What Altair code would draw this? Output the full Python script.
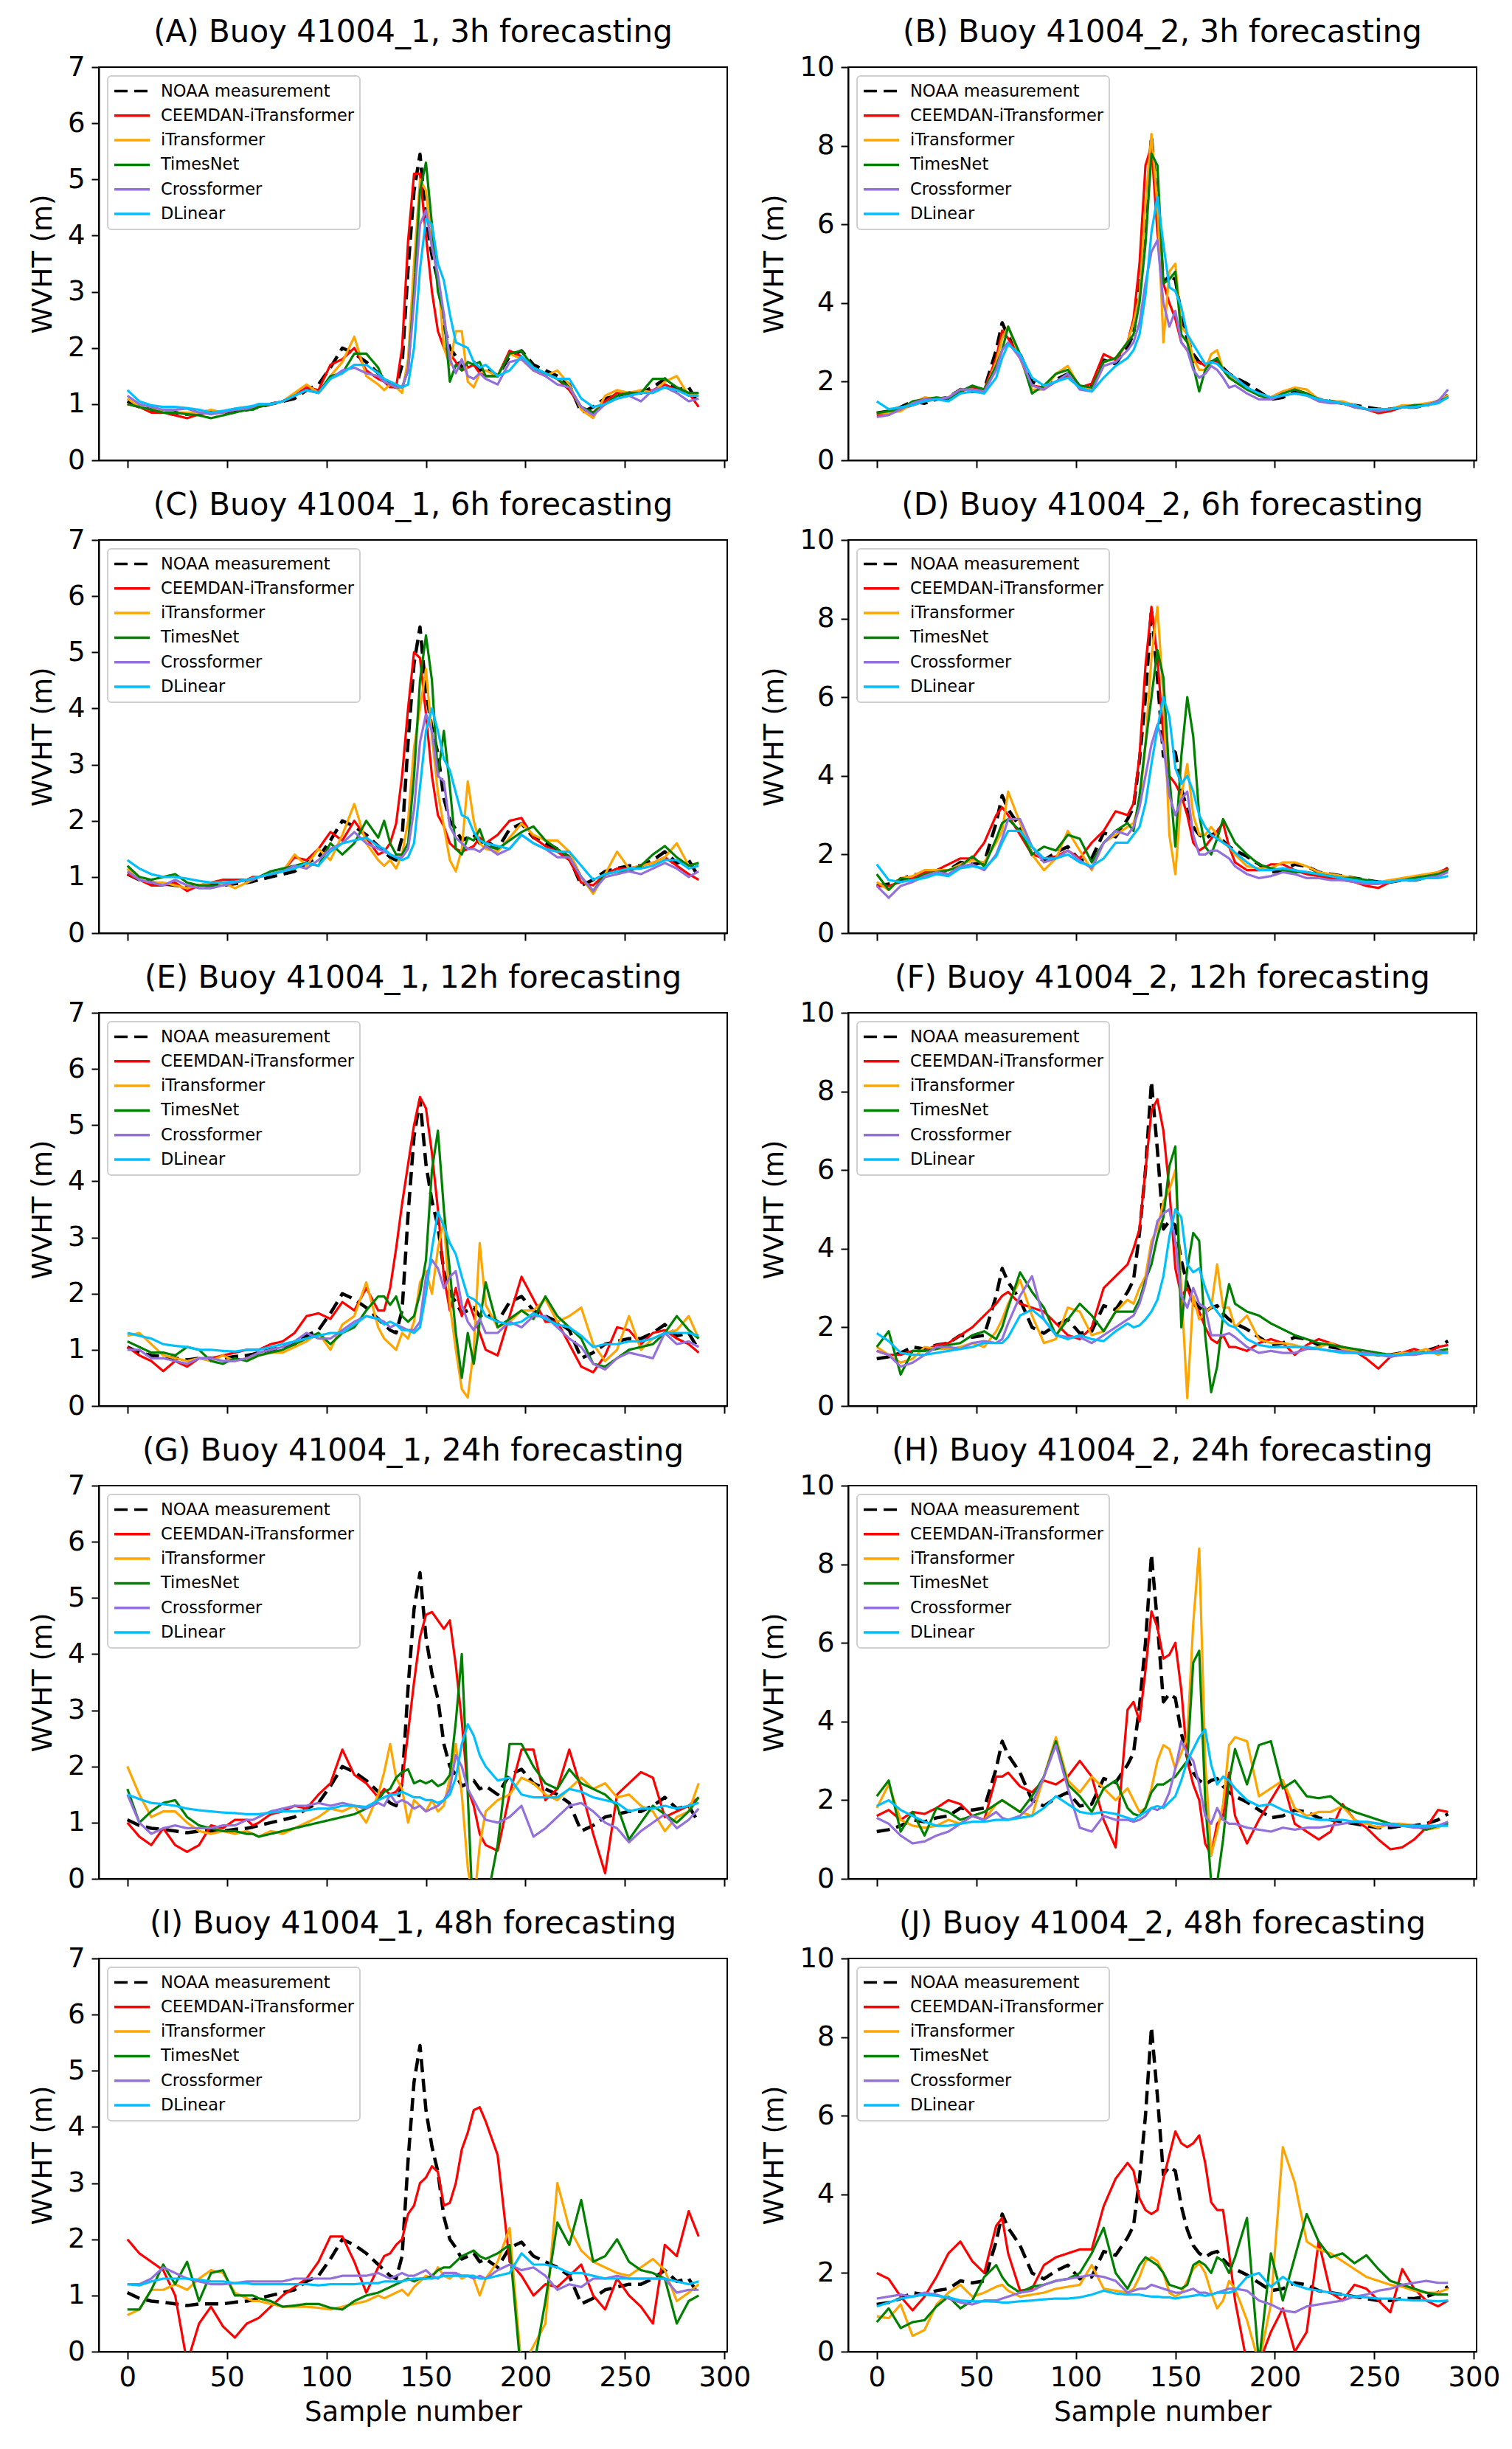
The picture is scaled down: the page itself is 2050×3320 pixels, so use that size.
import altair as alt
import pandas as pd

# ---------------- data ----------------
SAMPLE = [0, 6, 12, 18, 24, 30, 36, 42, 48, 54,
          60, 63, 66, 72, 78, 84, 90, 96, 102, 108,
          114, 120, 126, 129, 132, 135, 138, 141, 144, 147,
          150, 153, 156, 159, 162, 165, 168, 171, 174, 177,
          180, 186, 192, 198, 204, 210, 216, 222, 228, 234,
          240, 246, 252, 258, 264, 270, 276, 282, 287]

X_TICKS = [0, 50, 100, 150, 200, 250, 300]
Y_TICKS_1 = [0, 1, 2, 3, 4, 5, 6, 7]
Y_TICKS_2 = [0, 2, 4, 6, 8, 10]

SERIES = ["NOAA measurement", "CEEMDAN-iTransformer", "iTransformer",
          "TimesNet", "Crossformer", "DLinear"]
COLORS = ["#000000", "#ff0000", "#ffa500", "#008000", "#9370db", "#00bfff"]
DASHES = [[18, 9], [1, 0], [1, 0], [1, 0], [1, 0], [1, 0]]
WIDTHS = [4.5, 3.2, 3.2, 3.2, 3.2, 3.2]

NOAA_1 = [1.05, 0.95, 0.9, 0.88, 0.85, 0.82, 0.85, 0.85, 0.85, 0.88,
          0.9, 0.92, 0.95, 1.0, 1.05, 1.1, 1.25, 1.35, 1.65, 2.0,
          1.9, 1.75, 1.55, 1.45, 1.35, 1.3, 1.7, 3.4, 4.8, 5.45,
          4.3, 3.65, 3.2, 2.4, 2.0, 1.85, 1.65, 1.7, 1.75, 1.6,
          1.65, 1.5, 1.85, 1.95, 1.7, 1.6, 1.5, 1.35, 0.85, 0.95,
          1.1, 1.15, 1.2, 1.2, 1.3, 1.45, 1.25, 1.3, 1.0]
NOAA_2 = [1.2, 1.25, 1.35, 1.5, 1.45, 1.55, 1.6, 1.8, 1.75, 1.8,
          2.8, 3.5, 3.15, 2.7, 2.0, 1.85, 2.05, 2.2, 1.85, 1.9,
          2.55, 2.45, 2.9, 3.2, 4.4, 6.0, 8.25, 6.5, 4.5, 4.7,
          4.6, 3.7, 3.1, 2.7, 2.5, 2.4, 2.5, 2.55, 2.35, 2.2,
          2.1, 1.95, 1.75, 1.55, 1.6, 1.75, 1.7, 1.55, 1.5, 1.45,
          1.4, 1.35, 1.3, 1.3, 1.35, 1.35, 1.4, 1.5, 1.65]

# (A) 41004_1, 3h
A_CEEMDAN = [1.0, 0.95, 0.85, 0.85, 0.8, 0.75, 0.82, 0.85, 0.85, 0.9,
             0.92, 0.95, 0.95, 1.0, 1.05, 1.15, 1.3, 1.25, 1.7, 1.8,
             2.0, 1.6, 1.45, 1.4, 1.3, 1.3, 2.0, 3.9, 5.1, 5.1,
             4.0, 3.0, 2.3, 2.0, 1.9, 1.75, 1.6, 1.65, 1.7, 1.55,
             1.5, 1.5, 1.95, 1.85, 1.6, 1.55, 1.45, 1.25, 0.95, 0.85,
             1.05, 1.2, 1.15, 1.2, 1.25, 1.35, 1.25, 1.2, 0.95]
A_ITRANS = [1.1, 0.95, 0.9, 0.9, 0.85, 0.85, 0.85, 0.9, 0.85, 0.92,
            0.95, 0.95, 1.0, 1.0, 1.05, 1.2, 1.35, 1.2, 1.5, 1.75,
            2.2, 1.5, 1.35, 1.25, 1.35, 1.3, 1.2, 1.8, 3.5, 5.0,
            4.8, 3.8, 3.3, 2.0, 1.7, 2.3, 2.3, 1.4, 1.3, 1.55,
            1.6, 1.5, 1.9, 1.8, 1.6, 1.5, 1.6, 1.35, 0.9, 0.75,
            1.15, 1.25, 1.2, 1.25, 1.2, 1.4, 1.5, 1.15, 1.2]
A_TIMESNET = [1.0, 0.95, 0.9, 0.85, 0.85, 0.82, 0.8, 0.75, 0.8, 0.85,
              0.9, 0.9, 0.95, 1.0, 1.05, 1.15, 1.25, 1.2, 1.5, 1.55,
              1.9, 1.9, 1.65, 1.4, 1.35, 1.3, 1.3, 1.6, 3.0, 4.8,
              5.3, 4.2, 3.0, 2.6, 1.4, 1.7, 1.6, 1.75, 1.7, 1.75,
              1.5, 1.5, 1.9, 1.95, 1.65, 1.55, 1.45, 1.3, 0.95, 0.85,
              1.0, 1.15, 1.2, 1.2, 1.45, 1.45, 1.3, 1.2, 1.2]
A_CROSS = [1.15, 1.0, 0.95, 0.9, 0.9, 0.92, 0.85, 0.82, 0.85, 0.9,
           0.92, 0.95, 1.0, 1.0, 1.05, 1.15, 1.25, 1.2, 1.45, 1.6,
           1.65, 1.55, 1.5, 1.4, 1.35, 1.3, 1.3, 1.6, 2.8, 4.2,
           4.45, 3.8, 3.3, 2.6, 1.8, 1.55, 1.8, 1.5, 1.45, 1.55,
           1.45, 1.35, 1.75, 1.8, 1.6, 1.5, 1.35, 1.3, 0.95, 0.8,
           1.0, 1.1, 1.15, 1.05, 1.25, 1.3, 1.2, 1.05, 1.1]
A_DLINEAR = [1.25, 1.05, 0.98, 0.95, 0.95, 0.93, 0.9, 0.85, 0.88, 0.92,
             0.95, 0.97, 1.0, 1.0, 1.05, 1.15, 1.25, 1.2, 1.45, 1.55,
             1.7, 1.7, 1.55, 1.45, 1.4, 1.35, 1.3, 1.35, 2.0, 3.4,
             4.3, 4.2, 3.5, 3.2, 2.6, 2.1, 2.05, 2.0, 1.75, 1.65,
             1.7, 1.5, 1.6, 1.85, 1.65, 1.55, 1.45, 1.45, 1.1, 0.95,
             1.0, 1.1, 1.15, 1.2, 1.2, 1.3, 1.25, 1.15, 1.15]

# (B) 41004_2, 3h
B_CEEMDAN = [1.15, 1.2, 1.3, 1.4, 1.5, 1.55, 1.55, 1.75, 1.85, 1.8,
             2.6, 3.3, 3.1, 2.6, 1.9, 1.85, 2.0, 2.15, 1.85, 1.95,
             2.7, 2.55, 3.0, 3.6, 5.0, 7.5, 8.0, 5.8, 4.5, 4.0,
             3.6, 3.0, 2.8, 2.5, 2.5, 2.4, 2.5, 2.5, 2.3, 2.2,
             2.1, 1.85, 1.65, 1.6, 1.75, 1.8, 1.7, 1.55, 1.5, 1.45,
             1.4, 1.3, 1.2, 1.25, 1.35, 1.4, 1.4, 1.5, 1.65]
B_ITRANS = [1.2, 1.2, 1.25, 1.45, 1.6, 1.55, 1.6, 1.8, 1.8, 1.75,
            2.5, 3.1, 3.4, 2.6, 1.8, 1.8, 2.2, 2.4, 1.85, 1.8,
            2.5, 2.6, 3.0, 3.5, 4.2, 6.5, 8.3, 6.5, 3.0, 4.8,
            5.0, 3.4, 3.2, 2.6, 2.3, 2.3, 2.7, 2.8, 2.3, 2.2,
            2.0, 1.8, 1.7, 1.6, 1.75, 1.85, 1.8, 1.55, 1.5, 1.5,
            1.4, 1.3, 1.25, 1.3, 1.4, 1.4, 1.45, 1.5, 1.65]
B_TIMESNET = [1.2, 1.25, 1.3, 1.5, 1.55, 1.6, 1.55, 1.75, 1.9, 1.8,
              2.4, 2.8, 3.4, 2.7, 1.7, 1.9, 2.2, 2.3, 1.9, 1.85,
              2.5, 2.6, 3.0, 3.2, 4.0, 5.5, 7.8, 7.5, 4.5, 4.6,
              4.8, 3.2, 3.0, 2.4, 1.75, 2.3, 2.5, 2.6, 2.3, 2.1,
              2.0, 1.8, 1.65, 1.55, 1.7, 1.8, 1.7, 1.55, 1.5, 1.45,
              1.35, 1.3, 1.25, 1.3, 1.35, 1.4, 1.4, 1.5, 1.6]
B_CROSS = [1.1, 1.15, 1.3, 1.45, 1.55, 1.55, 1.6, 1.8, 1.8, 1.75,
           2.3, 2.8, 3.0, 2.6, 1.9, 1.8, 2.0, 2.2, 1.8, 1.75,
           2.4, 2.5, 2.8, 3.0, 3.5, 4.5, 5.3, 5.6, 4.0, 3.4,
           3.8, 3.0, 2.8, 2.3, 2.1, 2.2, 2.4, 2.3, 2.1, 1.85,
           1.9, 1.7, 1.55, 1.55, 1.65, 1.7, 1.65, 1.5, 1.45, 1.45,
           1.35, 1.3, 1.25, 1.3, 1.35, 1.35, 1.4, 1.5, 1.8]
B_DLINEAR = [1.5, 1.3, 1.35, 1.4, 1.5, 1.55, 1.5, 1.7, 1.75, 1.7,
             2.1, 2.6, 2.95, 2.7, 2.1, 1.9, 2.0, 2.1, 1.85, 1.75,
             2.1, 2.4, 2.6, 2.8, 3.2, 4.2, 5.8, 6.7, 5.5, 4.4,
             4.3, 3.9, 3.2, 2.95, 2.7, 2.45, 2.5, 2.45, 2.3, 2.2,
             2.1, 1.85, 1.7, 1.6, 1.65, 1.7, 1.65, 1.55, 1.5, 1.45,
             1.4, 1.3, 1.3, 1.3, 1.35, 1.35, 1.4, 1.45, 1.6]

# (C) 41004_1, 6h
C_CEEMDAN = [1.05, 0.95, 0.85, 0.85, 0.9, 0.75, 0.85, 0.9, 0.95, 0.95,
             0.95, 1.0, 1.0, 1.05, 1.1, 1.35, 1.3, 1.5, 1.8, 1.65,
             2.0, 1.7, 1.4, 1.45, 1.6, 1.95, 2.8, 4.0, 5.0, 4.9,
             3.9, 2.8, 2.1, 1.9, 1.6, 1.5, 1.45, 1.5, 1.55, 1.7,
             1.6, 1.75, 2.0, 2.05, 1.7, 1.55, 1.45, 1.3, 0.9, 0.85,
             1.05, 1.15, 1.15, 1.2, 1.25, 1.35, 1.2, 1.05, 0.95]
C_ITRANS = [1.15, 0.95, 0.9, 0.9, 0.85, 0.8, 0.85, 0.9, 0.9, 0.8,
            0.9, 0.95, 1.0, 1.05, 1.1, 1.4, 1.2, 1.5, 1.3, 1.75,
            2.3, 1.6, 1.3, 1.2, 1.3, 1.15, 1.4, 2.0, 3.3, 4.0,
            4.7, 3.5, 2.5, 1.9, 1.3, 1.1, 1.5, 2.7, 2.0, 1.6,
            1.5, 1.45, 1.7, 1.95, 1.75, 1.65, 1.65, 1.45, 1.0, 0.7,
            1.05, 1.45, 1.15, 1.2, 1.25, 1.35, 1.6, 1.2, 1.25]
C_TIMESNET = [1.2, 1.0, 0.95, 1.0, 1.05, 0.9, 0.85, 0.85, 0.85, 0.9,
              0.95, 0.95, 1.0, 1.1, 1.15, 1.2, 1.25, 1.2, 1.6, 1.4,
              1.6, 2.0, 1.7, 2.0, 1.6, 1.4, 1.4, 1.6, 2.8, 4.5,
              5.3, 4.5, 2.8, 3.6, 2.6, 1.5, 1.4, 1.7, 1.65, 1.85,
              1.55, 1.5, 1.65, 1.8, 1.9, 1.65, 1.5, 1.35, 1.0, 0.75,
              1.05, 1.1, 1.1, 1.2, 1.4, 1.55, 1.35, 1.2, 1.25]
C_CROSS = [1.1, 0.95, 0.9, 0.85, 0.95, 0.85, 0.8, 0.8, 0.85, 0.9,
           0.95, 0.95, 1.0, 1.05, 1.1, 1.2, 1.15, 1.3, 1.5, 1.6,
           1.8, 1.6, 1.5, 1.45, 1.4, 1.35, 1.35, 1.5, 2.2, 3.4,
           3.9, 3.6, 2.8, 2.7, 1.9, 1.7, 1.6, 1.5, 1.5, 1.45,
           1.55, 1.4, 1.5, 1.75, 1.6, 1.5, 1.35, 1.35, 1.0, 0.75,
           1.0, 1.05, 1.1, 1.05, 1.15, 1.25, 1.15, 1.0, 1.1]
C_DLINEAR = [1.3, 1.15, 1.05, 1.0, 1.0, 0.97, 0.93, 0.9, 0.9, 0.92,
             0.95, 0.98, 1.0, 1.05, 1.1, 1.15, 1.25, 1.2, 1.45, 1.6,
             1.65, 1.7, 1.55, 1.5, 1.4, 1.35, 1.3, 1.35, 1.6, 2.6,
             3.6, 4.0, 3.6, 3.1, 2.9, 2.5, 2.1, 2.05, 1.8, 1.65,
             1.6, 1.55, 1.5, 1.75, 1.6, 1.5, 1.45, 1.45, 1.2, 0.95,
             1.05, 1.1, 1.15, 1.15, 1.2, 1.3, 1.3, 1.15, 1.2]

# (D) 41004_2, 6h
D_CEEMDAN = [1.2, 1.2, 1.3, 1.4, 1.55, 1.6, 1.75, 1.9, 1.9, 2.3,
             3.0, 3.2, 3.0, 2.5, 2.0, 1.9, 1.95, 2.1, 1.9, 2.3,
             2.6, 3.1, 3.0, 3.3, 4.5, 6.8, 8.3, 7.0, 5.0, 4.0,
             3.8, 3.5, 3.0, 2.3, 2.1, 2.2, 2.4, 2.6, 2.8, 2.2,
             1.8, 1.6, 1.6, 1.75, 1.75, 1.6, 1.5, 1.45, 1.4, 1.35,
             1.3, 1.2, 1.15, 1.3, 1.35, 1.4, 1.45, 1.55, 1.65]
D_ITRANS = [1.3, 1.1, 1.4, 1.45, 1.6, 1.6, 1.6, 1.75, 1.85, 1.8,
            2.3, 2.6, 3.6, 2.8, 2.0, 1.6, 1.9, 2.6, 2.1, 1.6,
            2.3, 2.5, 2.7, 2.8, 3.3, 4.8, 7.0, 8.3, 6.0, 2.5,
            1.5, 3.5, 4.3, 3.0, 2.5, 2.5, 2.7, 2.5, 2.3, 2.2,
            2.0, 1.7, 1.65, 1.65, 1.8, 1.8, 1.7, 1.55, 1.5, 1.45,
            1.4, 1.3, 1.3, 1.35, 1.4, 1.45, 1.5, 1.55, 1.6]
D_TIMESNET = [1.5, 1.1, 1.4, 1.35, 1.5, 1.55, 1.6, 1.7, 1.95, 1.7,
              2.4, 2.8, 2.9, 2.6, 2.0, 2.2, 2.1, 2.5, 2.4, 1.8,
              2.3, 2.6, 2.8, 2.6, 3.5, 4.8, 6.0, 7.2, 6.5, 4.0,
              2.2, 4.5, 6.0, 5.0, 3.0, 2.2, 2.0, 2.4, 2.9, 2.6,
              2.3, 2.0, 1.75, 1.65, 1.6, 1.55, 1.55, 1.5, 1.45, 1.4,
              1.4, 1.35, 1.3, 1.3, 1.35, 1.4, 1.45, 1.5, 1.6]
D_CROSS = [1.2, 0.9, 1.2, 1.3, 1.45, 1.55, 1.5, 1.7, 1.75, 1.6,
           2.0, 2.4, 2.9, 2.9, 2.2, 1.8, 1.9, 2.1, 1.85, 1.65,
           2.3, 2.6, 2.5, 2.7, 3.2, 4.0, 4.8, 5.3, 4.8, 3.5,
           3.0, 3.4, 3.6, 2.5, 2.0, 2.0, 2.1, 2.1, 2.0, 1.9,
           1.7, 1.5, 1.4, 1.45, 1.55, 1.5, 1.4, 1.4, 1.35, 1.35,
           1.3, 1.25, 1.25, 1.3, 1.35, 1.35, 1.4, 1.45, 1.55]
D_DLINEAR = [1.75, 1.35, 1.3, 1.35, 1.4, 1.5, 1.45, 1.65, 1.7, 1.65,
             1.95, 2.3, 2.6, 2.6, 2.2, 1.9, 1.9, 2.0, 1.8, 1.7,
             1.9, 2.3, 2.3, 2.5, 2.7, 3.3, 4.3, 5.2, 6.0, 5.5,
             4.2, 3.8, 4.0, 3.6, 3.0, 2.7, 2.5, 2.4, 2.3, 2.2,
             2.05, 1.8, 1.6, 1.6, 1.65, 1.6, 1.55, 1.5, 1.45, 1.4,
             1.35, 1.3, 1.3, 1.3, 1.35, 1.35, 1.4, 1.4, 1.45]

# (E) 41004_1, 12h
E_CEEMDAN = [1.05, 0.9, 0.8, 0.62, 0.8, 0.7, 0.85, 0.85, 0.9, 0.95,
             1.0, 1.0, 1.0, 1.1, 1.15, 1.3, 1.6, 1.65, 1.55, 1.85,
             1.7, 2.1, 1.7, 1.7, 2.1, 2.8, 3.6, 4.3, 5.0, 5.5,
             5.3, 4.5, 3.5, 2.3, 1.7, 2.1, 1.6, 1.9, 1.6, 1.3,
             1.0, 0.9, 1.6, 2.3, 1.9, 1.5, 1.5, 1.1, 0.7, 0.6,
             0.9, 1.4, 1.35, 1.1, 1.3, 1.35, 1.2, 1.1, 0.95]
E_ITRANS = [1.25, 1.3, 1.1, 0.9, 0.85, 0.8, 0.85, 0.8, 0.9, 0.8,
            0.85, 0.85, 0.9, 0.95, 0.95, 1.05, 1.15, 1.3, 1.0, 1.45,
            1.6, 2.2, 1.4, 1.2, 1.1, 1.0, 1.3, 1.2, 1.5, 2.2,
            2.4, 2.0, 2.8, 3.3, 1.8, 1.0, 0.3, 0.15, 1.0, 2.9,
            1.8, 1.4, 1.5, 1.7, 1.7, 1.9, 1.5, 1.6, 1.75, 1.1,
            0.8, 1.0, 1.6, 1.0, 1.2, 1.3, 1.35, 1.6, 1.2]
E_TIMESNET = [1.15, 1.05, 0.95, 0.95, 0.9, 1.05, 1.0, 0.8, 0.75, 0.85,
              0.8, 0.85, 0.9, 0.95, 1.0, 1.1, 1.2, 1.3, 1.1, 1.3,
              1.4, 1.7, 1.95, 1.95, 1.8, 1.95, 1.6, 1.5, 1.6, 2.0,
              2.6, 4.2, 4.9, 3.5, 2.4, 1.3, 0.5, 1.3, 0.75, 1.5,
              2.2, 1.4, 1.55, 1.7, 1.55, 1.95, 1.6, 1.4, 1.2, 0.75,
              0.7, 0.85, 1.0, 1.05, 1.1, 1.3, 1.6, 1.35, 1.2]
E_CROSS = [1.0, 1.0, 0.85, 0.85, 0.8, 0.75, 0.85, 0.85, 0.8, 0.8,
           0.85, 0.9, 0.95, 1.0, 1.05, 1.15, 1.3, 1.2, 1.2, 1.35,
           1.5, 1.6, 1.55, 1.5, 1.4, 1.45, 1.4, 1.35, 1.35, 1.5,
           2.3, 2.6, 2.45, 2.1, 2.3, 2.4, 1.8, 1.5, 1.35, 1.55,
           1.3, 1.3, 1.5, 1.4, 1.6, 1.6, 1.4, 1.2, 1.05, 0.75,
           0.65, 0.85, 0.95, 0.9, 0.85, 1.3, 1.1, 1.15, 1.05]
E_DLINEAR = [1.3, 1.25, 1.2, 1.1, 1.07, 1.05, 1.0, 1.0, 0.98, 0.97,
             1.0, 1.0, 1.0, 1.05, 1.1, 1.15, 1.2, 1.25, 1.3, 1.3,
             1.45, 1.6, 1.55, 1.45, 1.5, 1.45, 1.35, 1.35, 1.3, 1.4,
             2.0, 2.8, 3.45, 3.2, 2.9, 2.7, 2.3, 1.95, 1.9, 1.8,
             1.6, 1.5, 1.45, 1.5, 1.65, 1.55, 1.45, 1.4, 1.25, 1.05,
             1.1, 1.1, 1.15, 1.15, 1.2, 1.3, 1.3, 1.3, 1.25]

# (F) 41004_2, 12h
F_CEEMDAN = [1.4, 1.3, 1.3, 1.4, 1.4, 1.55, 1.6, 1.8, 2.0, 2.3,
             2.6, 2.8, 2.9, 2.6, 2.5, 2.4, 2.1, 1.8, 1.7, 2.0,
             3.0, 3.3, 3.6, 4.0, 4.5, 6.0, 7.5, 7.8, 7.0, 5.5,
             3.5, 2.8, 3.0, 2.6, 2.4, 2.0, 1.7, 1.6, 1.8, 1.5,
             1.5, 1.4, 1.6, 1.7, 1.6, 1.3, 1.55, 1.7, 1.6, 1.5,
             1.4, 1.2, 0.95, 1.25, 1.35, 1.45, 1.35, 1.5, 1.55]
F_ITRANS = [1.5, 1.3, 1.1, 1.2, 1.5, 1.45, 1.45, 1.5, 1.6, 1.5,
            1.9, 2.2, 2.6, 3.2, 2.3, 1.6, 1.7, 2.5, 2.4, 1.8,
            1.9, 2.4, 2.7, 2.6, 3.0, 3.3, 4.2, 4.5, 5.2, 5.5,
            6.0, 3.0, 0.2, 2.8, 2.2, 2.4, 2.5, 3.6, 2.5, 2.5,
            2.0, 2.3, 1.7, 1.6, 1.6, 1.55, 1.45, 1.5, 1.6, 1.45,
            1.4, 1.3, 1.3, 1.3, 1.35, 1.35, 1.45, 1.3, 1.4]
F_TIMESNET = [1.5, 1.9, 0.8, 1.4, 1.4, 1.45, 1.55, 1.6, 1.8, 1.9,
              1.7, 2.0, 2.5, 3.4, 2.9, 2.5, 1.8, 2.2, 2.6, 2.3,
              1.9, 2.4, 2.4, 2.4, 2.7, 3.2, 3.6, 4.3, 4.8, 6.1,
              6.6, 2.0, 3.5, 4.4, 4.2, 1.8, 0.35, 1.0, 2.3, 3.1,
              2.6, 2.4, 2.3, 2.1, 1.95, 1.8, 1.7, 1.6, 1.55, 1.5,
              1.45, 1.4, 1.35, 1.3, 1.3, 1.35, 1.35, 1.4, 1.45]
F_CROSS = [1.4, 1.3, 1.0, 1.1, 1.3, 1.5, 1.5, 1.45, 1.6, 1.65,
           1.6, 1.7, 2.1, 2.8, 3.3, 2.2, 1.8, 1.75, 1.75, 1.6,
           1.8, 2.0, 2.2, 2.3, 2.6, 3.1, 4.0, 4.7, 4.9, 5.0,
           4.2, 2.8, 2.5, 3.0, 2.6, 2.5, 1.8, 1.8, 1.8, 1.85,
           1.75, 1.5, 1.35, 1.4, 1.35, 1.35, 1.45, 1.45, 1.4, 1.4,
           1.35, 1.35, 1.3, 1.25, 1.3, 1.3, 1.35, 1.4, 1.35]
F_DLINEAR = [1.85, 1.65, 1.35, 1.3, 1.3, 1.35, 1.4, 1.45, 1.5, 1.6,
             1.6, 1.6, 1.75, 2.3, 2.45, 2.2, 1.8, 1.7, 1.8, 1.7,
             1.65, 1.9, 2.1, 2.0, 2.05, 2.2, 2.4, 2.7, 3.3, 4.3,
             5.0, 4.8, 3.6, 3.4, 3.5, 3.0, 2.6, 2.4, 2.2, 2.05,
             2.0, 1.7, 1.55, 1.5, 1.5, 1.5, 1.5, 1.45, 1.4, 1.35,
             1.35, 1.3, 1.3, 1.3, 1.3, 1.35, 1.35, 1.35, 1.35]

# (G) 41004_1, 24h
G_CEEMDAN = [1.0, 0.75, 0.6, 0.9, 0.6, 0.48, 0.6, 0.95, 0.9, 1.05,
             1.05, 0.95, 1.0, 1.15, 1.2, 1.3, 1.25, 1.5, 1.7, 2.3,
             1.85, 1.7, 1.45, 1.6, 1.5, 1.55, 1.7, 2.6, 3.5, 4.3,
             4.7, 4.75, 4.6, 4.45, 4.6, 3.8, 2.8, 1.6, 1.3, 0.8,
             0.6, 0.5, 1.5, 2.3, 2.3, 1.4, 1.6, 2.3, 1.6, 0.8,
             0.1, 1.5, 1.7, 1.9, 1.8, 1.1, 1.2, 1.3, 1.45]
G_ITRANS = [2.0, 1.5, 1.1, 1.2, 1.2, 1.0, 0.85, 0.8, 0.85, 0.8,
            0.85, 0.8, 0.75, 0.85, 0.8, 0.9, 1.0, 1.1, 1.25, 1.2,
            1.3, 1.0, 1.5, 1.9, 2.4, 1.8, 1.6, 1.0, 1.4, 1.3,
            1.2, 1.4, 1.2, 1.3, 1.8, 2.4, 1.5, 0.2, -0.5, 0.6,
            1.2, 1.4, 1.5, 1.8, 1.7, 1.5, 1.4, 1.6, 1.8, 1.6,
            1.7, 1.45, 1.5, 1.3, 1.2, 0.85, 1.1, 1.2, 1.7]
G_TIMESNET = [1.6, 1.0, 1.2, 1.35, 1.4, 1.1, 0.95, 0.9, 0.85, 0.85,
              0.8, 0.8, 0.75, 0.8, 0.85, 0.9, 0.95, 1.0, 1.05, 1.1,
              1.15, 1.25, 1.4, 1.55, 1.6, 1.8, 1.9, 1.95, 1.7, 1.75,
              1.7, 1.75, 1.65, 1.7, 1.85, 2.8, 4.0, 1.5, -1.0, -1.0,
              -0.5, 0.6, 2.4, 2.4, 2.0, 1.7, 1.6, 1.95, 1.7, 1.6,
              1.5, 1.3, 0.7, 1.0, 1.3, 1.15, 1.0, 1.2, 1.45]
G_CROSS = [1.5, 1.0, 0.8, 0.9, 0.95, 0.9, 0.9, 0.9, 0.95, 0.95,
           1.05, 1.05, 1.1, 1.2, 1.25, 1.3, 1.3, 1.35, 1.3, 1.35,
           1.3, 1.25, 1.35, 1.3, 1.5, 1.35, 1.4, 1.35, 1.25, 1.3,
           1.2, 1.25, 1.3, 1.4, 1.6, 2.2, 2.0, 1.6, 1.4, 1.2,
           1.05, 1.0, 1.1, 1.3, 0.75, 0.9, 1.1, 1.3, 1.35, 1.2,
           1.0, 0.9, 0.65, 0.85, 1.0, 1.15, 0.9, 1.05, 1.25]
G_DLINEAR = [1.5, 1.42, 1.35, 1.33, 1.3, 1.25, 1.22, 1.2, 1.18, 1.17,
             1.15, 1.15, 1.15, 1.18, 1.2, 1.2, 1.22, 1.25, 1.25, 1.3,
             1.3, 1.28, 1.4, 1.45, 1.5, 1.5, 1.55, 1.5, 1.45, 1.45,
             1.4, 1.4, 1.35, 1.4, 1.5, 1.8, 2.4, 2.75, 2.55, 2.2,
             2.0, 1.75, 1.8, 1.5, 1.45, 1.45, 1.45, 1.6, 1.55, 1.45,
             1.4, 1.35, 1.2, 1.25, 1.25, 1.3, 1.25, 1.3, 1.35]

# (H) 41004_2, 24h
H_CEEMDAN = [1.6, 1.75, 1.5, 1.7, 1.65, 1.8, 2.0, 1.9, 1.6, 1.5,
             2.6, 2.6, 2.7, 2.35, 2.2, 2.5, 2.4, 2.6, 3.0, 2.6,
             1.5, 0.8, 4.3, 4.5, 4.0, 5.3, 6.8, 6.4, 5.6, 5.7,
             6.0, 4.8, 3.0, 2.4, 2.0, 0.9, 0.6, 1.4, 1.6, 2.7,
             1.6, 0.9, 1.5, 2.0, 2.5, 1.4, 1.2, 1.0, 1.2, 1.9,
             1.5, 1.3, 1.0, 0.75, 0.8, 1.0, 1.3, 1.75, 1.7]
H_ITRANS = [1.8, 2.4, 1.5, 1.35, 1.3, 1.35, 1.5, 1.4, 1.6, 1.5,
            1.9, 2.0, 1.9, 1.7, 1.6, 2.6, 3.6, 2.5, 2.2, 2.6,
            2.3, 2.0, 2.3, 2.0, 1.7, 1.8, 2.3, 3.0, 3.4, 3.3,
            2.8, 3.2, 3.6, 6.5, 8.4, 3.0, 0.6, 1.2, 1.9, 3.4,
            3.6, 3.5, 2.1, 2.3, 2.5, 1.8, 1.6, 1.7, 1.7, 1.85,
            1.5, 1.4, 1.3, 1.4, 1.4, 1.35, 1.25, 1.3, 1.45]
H_TIMESNET = [2.1, 2.5, 1.2, 1.7, 1.1, 1.8, 1.7, 1.5, 1.6, 1.7,
              1.9, 2.0, 1.9, 1.7, 2.1, 2.6, 3.5, 2.4, 2.1, 1.7,
              2.3, 2.5, 1.8, 1.65, 1.6, 1.8, 2.2, 2.4, 2.4, 2.5,
              2.6, 2.8, 3.0, 5.5, 5.8, 2.0, -0.1, -0.1, 1.0, 2.5,
              3.3, 2.4, 3.4, 3.5, 2.3, 2.5, 2.1, 2.05, 2.1, 1.85,
              1.7, 1.6, 1.5, 1.4, 1.35, 1.35, 1.25, 1.35, 1.4]
H_CROSS = [1.55, 1.4, 1.1, 0.9, 0.95, 1.1, 1.2, 1.4, 1.6, 1.5,
           1.7, 1.55, 1.5, 1.6, 1.9, 2.6, 3.4, 2.3, 1.3, 1.2,
           1.6, 1.5, 1.5, 1.45, 1.5, 1.6, 1.8, 1.75, 1.85, 2.2,
           2.8, 3.5, 3.2, 3.0, 2.4, 1.6, 1.4, 1.8, 1.5, 1.4,
           1.4, 1.3, 1.25, 1.2, 1.3, 1.25, 1.3, 1.3, 1.35, 1.4,
           1.45, 1.45, 1.4, 1.35, 1.35, 1.3, 1.3, 1.35, 1.45]
H_DLINEAR = [1.85, 2.0, 1.75, 1.6, 1.45, 1.35, 1.35, 1.4, 1.45, 1.45,
             1.5, 1.5, 1.5, 1.55, 1.6, 1.8, 2.1, 1.9, 1.7, 1.65,
             1.7, 1.65, 1.55, 1.5, 1.6, 1.7, 1.8, 1.85, 1.8, 1.95,
             2.1, 2.5, 3.0, 3.3, 3.6, 3.8, 2.9, 2.4, 2.6, 2.5,
             2.3, 2.0, 1.85, 1.9, 1.75, 1.65, 1.55, 1.5, 1.5, 1.5,
             1.45, 1.45, 1.4, 1.4, 1.35, 1.35, 1.35, 1.35, 1.35]

# (I) 41004_1, 48h
I_CEEMDAN = [2.0, 1.75, 1.6, 1.45, 1.0, -0.2, 0.5, 0.8, 0.45, 0.25,
             0.5, 0.55, 0.6, 0.8, 1.0, 1.15, 1.3, 1.6, 2.05, 2.05,
             1.6, 1.05, 1.5, 1.7, 1.75, 1.9, 2.0, 2.45, 2.6, 3.0,
             3.1, 3.3, 3.2, 2.6, 2.65, 3.0, 3.6, 3.9, 4.3, 4.35,
             4.1, 3.5, 1.6, 1.35, 1.0, 1.2, 1.15, 1.35, 1.55, 1.0,
             0.75, 1.3, 1.0, 0.8, 0.5, 1.9, 1.7, 2.5, 2.05]
I_ITRANS = [0.65, 0.75, 1.1, 1.1, 1.2, 1.1, 1.3, 1.45, 1.4, 1.05,
            0.95, 0.9, 0.9, 0.85, 0.8, 0.8, 0.8, 0.78, 0.75, 0.8,
            0.85, 0.9, 1.0, 0.95, 1.0, 1.05, 1.1, 1.0, 1.15, 1.25,
            1.35, 1.3, 1.5, 1.35, 1.3, 1.4, 1.3, 1.35, 1.3, 1.0,
            1.3, 1.6, 2.2, -0.3, 0.1, 0.5, 3.0, 2.2, 1.8, 1.6,
            1.5, 1.4, 1.35, 1.5, 1.65, 1.45, 0.9, 1.05, 1.2]
I_TIMESNET = [0.75, 0.75, 1.1, 1.55, 1.2, 1.6, 0.9, 1.4, 1.45, 1.0,
              1.0, 1.0, 0.95, 0.9, 0.8, 0.82, 0.85, 0.85, 0.78, 0.75,
              0.9, 1.0, 1.05, 1.1, 1.15, 1.2, 1.25, 1.3, 1.25, 1.3,
              1.3, 1.35, 1.45, 1.5, 1.5, 1.6, 1.7, 1.75, 1.8, 1.7,
              1.65, 1.75, 1.9, -0.5, -0.3, 0.9, 2.3, 1.9, 2.7, 1.6,
              1.7, 2.0, 1.6, 1.45, 1.4, 1.3, 0.5, 0.9, 1.0]
I_CROSS = [1.2, 1.2, 1.3, 1.5, 1.4, 1.3, 1.25, 1.2, 1.2, 1.22,
           1.25, 1.25, 1.25, 1.25, 1.25, 1.3, 1.3, 1.3, 1.3, 1.35,
           1.35, 1.35, 1.4, 1.35, 1.3, 1.35, 1.4, 1.35, 1.35, 1.4,
           1.45, 1.35, 1.3, 1.4, 1.4, 1.4, 1.35, 1.35, 1.3, 1.35,
           1.3, 1.45, 1.55, 1.45, 1.5, 1.35, 1.1, 1.2, 1.15, 1.3,
           1.3, 1.35, 1.3, 1.3, 1.3, 1.3, 1.05, 1.1, 1.1]
I_DLINEAR = [1.2, 1.18, 1.25, 1.3, 1.3, 1.3, 1.28, 1.25, 1.25, 1.22,
             1.22, 1.2, 1.2, 1.2, 1.2, 1.2, 1.2, 1.18, 1.2, 1.2,
             1.2, 1.22, 1.22, 1.25, 1.25, 1.25, 1.25, 1.28, 1.3, 1.3,
             1.3, 1.3, 1.32, 1.35, 1.35, 1.35, 1.35, 1.35, 1.35, 1.3,
             1.3, 1.35, 1.4, 1.75, 1.55, 1.55, 1.5, 1.4, 1.4, 1.35,
             1.3, 1.3, 1.3, 1.3, 1.3, 1.3, 1.25, 1.2, 1.25]

# (J) 41004_2, 48h
J_CEEMDAN = [2.0, 1.85, 1.4, 1.05, 1.4, 1.9, 2.5, 2.8, 2.3, 2.0,
             3.2, 3.4, 2.5, 1.55, 1.6, 2.2, 2.4, 2.5, 2.6, 2.6,
             3.7, 4.4, 4.8, 4.6, 3.9, 3.6, 3.5, 3.6, 4.4, 5.0,
             5.6, 5.3, 5.2, 5.3, 5.5, 4.8, 3.8, 3.6, 3.6, 2.5,
             1.3, -0.3, -0.3, 0.5, 1.1, 0.0, 0.5, 2.8, 1.5, 1.3,
             1.7, 1.6, 1.3, 1.0, 2.1, 1.6, 1.3, 1.15, 1.3]
J_ITRANS = [0.9, 0.85, 1.2, 0.4, 0.55, 1.2, 1.5, 1.7, 1.4, 1.5,
            1.65, 1.7, 1.55, 1.4, 1.45, 1.5, 1.6, 1.65, 1.7, 2.2,
            1.6, 1.55, 1.5, 1.6, 1.9, 2.3, 2.4, 2.3, 2.0, 1.5,
            1.4, 1.5, 1.8, 2.1, 2.25, 2.0, 1.5, 1.1, 1.3, 1.8,
            1.6, 0.8, -0.3, 1.2, 5.2, 4.3, 2.8, 2.6, 2.5, 2.3,
            2.1, 1.9, 1.8, 1.7, 1.65, 1.55, 1.5, 1.5, 1.6]
J_TIMESNET = [0.75, 1.1, 0.6, 0.75, 0.8, 1.15, 1.4, 1.1, 1.3, 1.9,
              2.2, 1.9, 1.7, 1.5, 1.65, 1.7, 1.8, 1.85, 2.0, 2.5,
              3.15, 2.0, 1.6, 1.9, 2.2, 2.4, 2.3, 2.2, 2.0, 1.7,
              1.65, 1.6, 1.7, 2.2, 2.3, 2.2, 2.0, 2.4, 2.3, 2.0,
              2.4, 3.4, -0.3, 2.5, 1.3, 2.4, 3.5, 2.8, 2.4, 2.5,
              2.25, 2.45, 2.1, 1.8, 1.7, 1.6, 1.5, 1.45, 1.45]
J_CROSS = [1.35, 1.4, 1.45, 1.4, 1.5, 1.45, 1.35, 1.25, 1.2, 1.3,
           1.3, 1.35, 1.4, 1.5, 1.55, 1.7, 1.8, 1.85, 1.9, 1.95,
           1.9, 1.8, 1.5, 1.55, 1.6, 1.6, 1.7, 1.65, 1.6, 1.55,
           1.5, 1.5, 1.55, 1.6, 1.5, 1.5, 1.45, 1.5, 1.55, 1.6,
           1.6, 1.55, 1.3, 1.2, 1.05, 1.0, 1.15, 1.2, 1.25, 1.3,
           1.4, 1.45, 1.55, 1.6, 1.7, 1.75, 1.8, 1.75, 1.75]
J_DLINEAR = [1.15, 1.25, 1.35, 1.4, 1.45, 1.42, 1.38, 1.3, 1.28, 1.28,
             1.27, 1.25, 1.25, 1.28, 1.3, 1.33, 1.35, 1.35, 1.38, 1.45,
             1.55, 1.48, 1.45, 1.45, 1.45, 1.42, 1.4, 1.4, 1.38, 1.38,
             1.35, 1.38, 1.4, 1.42, 1.45, 1.42, 1.45, 1.5, 1.5, 1.5,
             1.55, 1.9, 2.0, 1.65, 1.9, 1.7, 1.6, 1.55, 1.5, 1.45,
             1.4, 1.38, 1.35, 1.35, 1.32, 1.3, 1.3, 1.28, 1.3]

TITLES = ["(A) Buoy 41004_1, 3h forecasting", "(B) Buoy 41004_2, 3h forecasting",
          "(C) Buoy 41004_1, 6h forecasting", "(D) Buoy 41004_2, 6h forecasting",
          "(E) Buoy 41004_1, 12h forecasting", "(F) Buoy 41004_2, 12h forecasting",
          "(G) Buoy 41004_1, 24h forecasting", "(H) Buoy 41004_2, 24h forecasting",
          "(I) Buoy 41004_1, 48h forecasting", "(J) Buoy 41004_2, 48h forecasting"]

PANELS = [
    (NOAA_1, [A_CEEMDAN, A_ITRANS, A_TIMESNET, A_CROSS, A_DLINEAR], 7, Y_TICKS_1),
    (NOAA_2, [B_CEEMDAN, B_ITRANS, B_TIMESNET, B_CROSS, B_DLINEAR], 10, Y_TICKS_2),
    (NOAA_1, [C_CEEMDAN, C_ITRANS, C_TIMESNET, C_CROSS, C_DLINEAR], 7, Y_TICKS_1),
    (NOAA_2, [D_CEEMDAN, D_ITRANS, D_TIMESNET, D_CROSS, D_DLINEAR], 10, Y_TICKS_2),
    (NOAA_1, [E_CEEMDAN, E_ITRANS, E_TIMESNET, E_CROSS, E_DLINEAR], 7, Y_TICKS_1),
    (NOAA_2, [F_CEEMDAN, F_ITRANS, F_TIMESNET, F_CROSS, F_DLINEAR], 10, Y_TICKS_2),
    (NOAA_1, [G_CEEMDAN, G_ITRANS, G_TIMESNET, G_CROSS, G_DLINEAR], 7, Y_TICKS_1),
    (NOAA_2, [H_CEEMDAN, H_ITRANS, H_TIMESNET, H_CROSS, H_DLINEAR], 10, Y_TICKS_2),
    (NOAA_1, [I_CEEMDAN, I_ITRANS, I_TIMESNET, I_CROSS, I_DLINEAR], 7, Y_TICKS_1),
    (NOAA_2, [J_CEEMDAN, J_ITRANS, J_TIMESNET, J_CROSS, J_DLINEAR], 10, Y_TICKS_2),
]

FONT = "DejaVu Sans"
PW, PH = 852, 533


def make_panel(i):
    noaa, models, ymax, yticks = PANELS[i]
    bottom = i >= 8
    if bottom:
        xaxis = alt.Axis(values=X_TICKS, title="Sample number", labelFlush=False)
    else:
        xaxis = alt.Axis(values=X_TICKS, title=None, labels=False, labelFlush=False)
    yaxis = alt.Axis(values=yticks, title="WVHT (m)", format="d", labelFlush=False)
    layers = []
    for k, (name, vals) in enumerate(zip(SERIES, [noaa] + models)):
        if len(vals) != len(SAMPLE):
            raise ValueError(f"panel {i} series {name}: {len(vals)} values")
        df = pd.DataFrame({"Sample": SAMPLE, "WVHT": vals, "Series": [name] * len(SAMPLE)})
        layer = alt.Chart(df).mark_line(
            clip=True, strokeWidth=WIDTHS[k], strokeJoin="round"
        ).encode(
            x=alt.X("Sample:Q", axis=xaxis,
                    scale=alt.Scale(domain=[-14.35, 301.35], nice=False, zero=False)),
            y=alt.Y("WVHT:Q", axis=yaxis,
                    scale=alt.Scale(domain=[0, ymax], nice=False, zero=True)),
            color=alt.Color("Series:N", scale=alt.Scale(domain=SERIES, range=COLORS),
                            legend=alt.Legend(title=None)),
            strokeDash=alt.StrokeDash("Series:N", scale=alt.Scale(domain=SERIES, range=DASHES),
                                      legend=alt.Legend(title=None)),
        )
        layers.append(layer)
    return alt.layer(*layers).properties(width=PW, height=PH, title=TITLES[i])


panels = [make_panel(i) for i in range(10)]

chart = alt.concat(
    *panels, columns=2, spacing={"row": 108, "column": 164}, bounds="flush"
).resolve_scale(
    x="independent", y="independent", color="independent", strokeDash="independent"
).resolve_legend(
    color="independent", strokeDash="independent"
).properties(
    padding={"left": 30, "top": 14, "right": 0, "bottom": 5},
    background="white",
).configure_view(
    stroke="black", strokeWidth=2
).configure_axis(
    labelFont=FONT, titleFont=FONT, labelFontSize=37, titleFontSize=37,
    titleFontWeight="normal", labelColor="black", titleColor="black",
    tickColor="black", domainColor="black", tickSize=10, tickWidth=2,
    domainWidth=2, grid=False,
).configure_axisY(
    labelPadding=9, titlePadding=14
).configure_axisX(
    labelPadding=7, titlePadding=11
).configure_title(
    font=FONT, fontSize=42, fontWeight="normal", color="black",
    anchor="middle", offset=6, frame="group"
).configure_legend(
    orient="top-left", offset=12, padding=7, fillColor="white",
    strokeColor="#d0d0d0", strokeWidth=2, cornerRadius=5,
    symbolType="stroke", symbolSize=2304, symbolStrokeWidth=3.5,
    labelFont=FONT, labelFontSize=22.5, labelColor="black", labelLimit=500,
    labelOffset=13, clipHeight=27, rowPadding=6.3,
)

chart.save("out.html", embed_options={"renderer": "svg", "actions": False})
